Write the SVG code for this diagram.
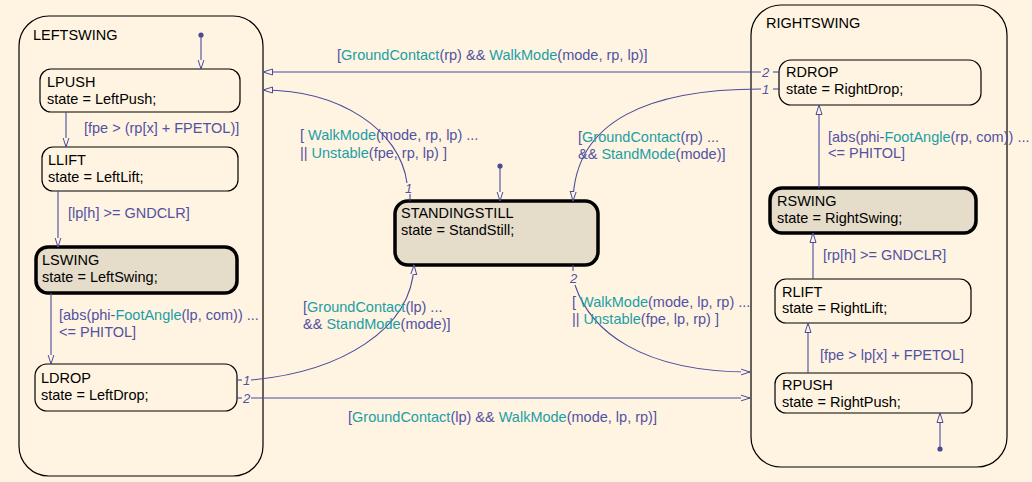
<svg xmlns="http://www.w3.org/2000/svg" width="1032" height="482" viewBox="0 0 1032 482">
<style>
.bg{fill:#FFF4E1}
.box{fill:#FFF4E1;stroke:#000;stroke-width:1.2}
.act{fill:#E5DCCA;stroke:#000;stroke-width:3.5}
.t{font-family:"Liberation Sans",Arial,sans-serif;font-size:14.5px;fill:#000}
.lb{font-family:"Liberation Sans",Arial,sans-serif;font-size:14.5px;fill:#5252A3}
.fn{fill:#1C9EA6}
.num{font-family:"Liberation Sans",Arial,sans-serif;font-size:13px;font-style:italic;fill:#5252A3}
.ln{fill:none;stroke:#4A4A9C;stroke-width:1.1}
.arr{fill:none;stroke:#4A4A9C;stroke-width:1.1;marker-end:url(#ah)}
.dot{fill:#4A4A8C}
</style>
<defs>
<marker id="ah" viewBox="0 -4 10 8" refX="9.5" refY="0" markerWidth="10" markerHeight="8" markerUnits="userSpaceOnUse" orient="auto">
<path d="M0,-3 L9.5,0 L0,3 Z" fill="#FFF4E1" stroke="#4A4A9C" stroke-width="1"/>
</marker>
</defs>
<rect class="bg" x="0" y="0" width="1032" height="482"/>

<g id="LEFTSWING">
<rect class="box" x="19" y="16" width="244" height="460" rx="30"/>
<text class="t" x="33" y="40">LEFTSWING</text>
</g>
<g id="RIGHTSWING">
<rect class="box" x="751" y="5" width="256" height="462" rx="30"/>
<text class="t" x="766" y="28">RIGHTSWING</text>
</g>

<g id="LPUSH">
<rect class="box" x="40" y="69" width="200" height="43" rx="11"/>
<text class="t" x="47" y="87">LPUSH</text>
<text class="t" x="47" y="104">state = LeftPush;</text>
</g>
<g id="LLIFT">
<rect class="box" x="42" y="147" width="196" height="44" rx="11"/>
<text class="t" x="48" y="165">LLIFT</text>
<text class="t" x="48" y="182">state = LeftLift;</text>
</g>
<g id="LSWING">
<rect class="act" x="36" y="247" width="201" height="46" rx="12"/>
<text class="t" x="42" y="265">LSWING</text>
<text class="t" x="42" y="282">state = LeftSwing;</text>
</g>
<g id="LDROP">
<rect class="box" x="35" y="364" width="202" height="47" rx="12"/>
<text class="t" x="41" y="383">LDROP</text>
<text class="t" x="41" y="400">state = LeftDrop;</text>
</g>
<g id="STANDINGSTILL">
<rect class="act" x="395" y="201" width="203" height="64" rx="13"/>
<text class="t" x="401" y="218">STANDINGSTILL</text>
<text class="t" x="401" y="235">state = StandStill;</text>
</g>
<g id="RDROP">
<rect class="box" x="779" y="60" width="202" height="45" rx="12"/>
<text class="t" x="786" y="77">RDROP</text>
<text class="t" x="786" y="94">state = RightDrop;</text>
</g>
<g id="RSWING">
<rect class="act" x="770" y="188" width="206" height="45" rx="12"/>
<text class="t" x="777" y="206">RSWING</text>
<text class="t" x="777" y="223">state = RightSwing;</text>
</g>
<g id="RLIFT">
<rect class="box" x="775" y="279" width="196" height="44" rx="11"/>
<text class="t" x="782" y="297">RLIFT</text>
<text class="t" x="782" y="313">state = RightLift;</text>
</g>
<g id="RPUSH">
<rect class="box" x="775" y="373" width="197" height="40" rx="11"/>
<text class="t" x="782" y="390">RPUSH</text>
<text class="t" x="782" y="407">state = RightPush;</text>
</g>

<g id="connectors">
<circle class="dot" cx="201" cy="35" r="2.6"/>
<path class="arr" d="M201 35 V69"/>
<path class="arr" d="M66 112 V147"/>
<path class="arr" d="M58 191 V247"/>
<path class="arr" d="M51 293 V364"/>

<circle class="dot" cx="500" cy="166" r="2.6"/>
<path class="arr" d="M500 166 V201"/>

<circle class="dot" cx="940" cy="449" r="2.6"/>
<path class="arr" d="M940 449 V413"/>
<path class="arr" d="M808 373 V323"/>
<path class="arr" d="M813 279 V233"/>
<path class="arr" d="M819 188 V105"/>

<path class="ln" d="M780 72 H773"/>
<text class="num" x="762" y="77">2</text>
<path class="arr" d="M761 72 H263"/>
<path class="ln" d="M780 89 H773"/>
<text class="num" x="762" y="94">1</text>
<path class="arr" d="M761 89 C 650 89, 575 120, 573 201"/>

<path class="ln" d="M410 201 V194"/>
<text class="num" x="405" y="193">1</text>
<path class="arr" d="M407 183 C 400 130, 340 90, 263 90"/>

<path class="ln" d="M237 380 H242"/>
<text class="num" x="243" y="385">1</text>
<path class="arr" d="M251 380 C 340 372, 412 330, 414 265"/>
<path class="ln" d="M237 398 H242"/>
<text class="num" x="243" y="403">2</text>
<path class="arr" d="M251 398 H750"/>

<path class="ln" d="M573 265 V271"/>
<text class="num" x="570" y="283">2</text>
<path class="arr" d="M575 285 C 590 330, 640 372, 750 372"/>

<text class="lb" x="84" y="133">[fpe &gt; (rp[x] + FPETOL)]</text>
<text class="lb" x="68" y="218">[lp[h] &gt;= GNDCLR]</text>
<text class="lb" x="59" y="320">[abs(phi-<tspan class="fn">FootAngle</tspan>(lp, com)) ...</text>
<text class="lb" x="59" y="337">&lt;= PHITOL]</text>

<text class="lb" x="337" y="60">[<tspan class="fn">GroundContact</tspan>(rp) &amp;&amp; <tspan class="fn">WalkMode</tspan>(mode, rp, lp)]</text>
<text class="lb" x="300" y="140">[ <tspan class="fn">WalkMode</tspan>(mode, rp, lp) ...</text>
<text class="lb" x="300" y="158">|| <tspan class="fn">Unstable</tspan>(fpe, rp, lp) ]</text>
<text class="lb" x="578" y="142">[<tspan class="fn">GroundContact</tspan>(rp) ...</text>
<text class="lb" x="578" y="159">&amp;&amp; <tspan class="fn">StandMode</tspan>(mode)]</text>
<text class="lb" x="303" y="312">[<tspan class="fn">GroundContact</tspan>(lp) ...</text>
<text class="lb" x="303" y="329">&amp;&amp; <tspan class="fn">StandMode</tspan>(mode)]</text>
<text class="lb" x="572" y="307">[ <tspan class="fn">WalkMode</tspan>(mode, lp, rp) ...</text>
<text class="lb" x="572" y="324">|| <tspan class="fn">Unstable</tspan>(fpe, lp, rp) ]</text>
<text class="lb" x="348" y="422">[<tspan class="fn">GroundContact</tspan>(lp) &amp;&amp; <tspan class="fn">WalkMode</tspan>(mode, lp, rp)]</text>

<text class="lb" x="828" y="142">[abs(phi-<tspan class="fn">FootAngle</tspan>(rp, com)) ...</text>
<text class="lb" x="828" y="158">&lt;= PHITOL]</text>
<text class="lb" x="823" y="260">[rp[h] &gt;= GNDCLR]</text>
<text class="lb" x="820" y="360">[fpe &gt; lp[x] + FPETOL]</text>
</g>
</svg>
